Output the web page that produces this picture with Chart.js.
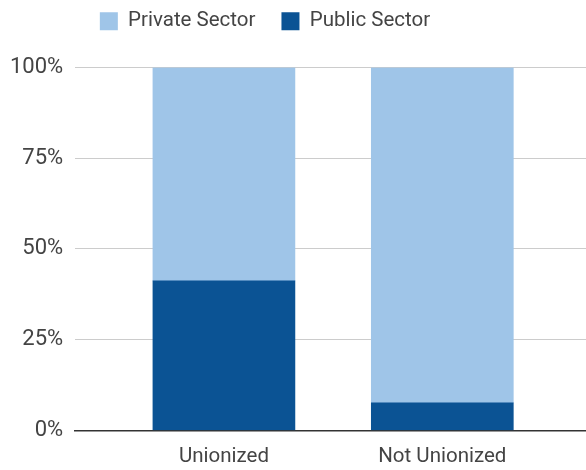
<!DOCTYPE html>
<html>
<head>
<meta charset="utf-8">
<script src="https://cdn.jsdelivr.net/npm/chart.js@4"></script>
<style>
html,body{margin:0;padding:0;background:#fff;}
#wrap{width:586px;height:470px;}
</style>
</head>
<body>
<div id="wrap"><canvas id="c" width="586" height="470"></canvas></div>
<script>
const categories = ['Unionized', 'Not Unionized'];
const publicSector = [41.2, 7.6];
const privateSector = [58.8, 92.4];
const yTicks = [0, 25, 50, 75, 100];

const toPoints = arr => arr.map((v, i) => ({x: i, y: v}));

Chart.defaults.font.family = 'Roboto';
Chart.defaults.color = '#444';

const legendShift = {
  id: 'legendShift',
  afterLayout(chart) {
    const lg = chart.legend;
    if (!lg) return;
    lg.left -= 27; lg.right -= 27;
    lg.top -= 26; lg.bottom -= 26;
  }
};

new Chart(document.getElementById('c'), {
  type: 'bar',
  data: {
    datasets: [
      {label: 'Public Sector', data: toPoints(publicSector), backgroundColor: '#0b5394', barThickness: 142, grouped: false},
      {label: 'Private Sector', data: toPoints(privateSector), backgroundColor: '#9fc5e8', barThickness: 142, grouped: false}
    ]
  },
  plugins: [legendShift],
  options: {
    responsive: false,
    animation: false,
    layout: {padding: {left: -2, right: 0, top: 11, bottom: -13}},
    plugins: {
      legend: {
        reverse: true,
        labels: {boxWidth: 18, boxHeight: 18, padding: 26, font: {size: 20.5}, color: '#444'}
      },
      tooltip: {enabled: false}
    },
    scales: {
      x: {
        type: 'linear',
        offset: false,
        min: -0.681,
        max: 1.658,
        afterBuildTicks: s => { s.ticks = categories.map((c, i) => ({value: i})); },
        ticks: {callback: v => categories[v], font: {size: 20.5}, color: '#444', padding: 14, maxRotation: 0, autoSkip: false},
        grid: {display: false, drawTicks: false},
        border: {display: true, color: '#333', width: 1.5}
      },
      y: {
        stacked: true,
        min: 0,
        max: 100,
        afterBuildTicks: s => { s.ticks = yTicks.map(v => ({value: v})); },
        ticks: {callback: v => v + '%', font: {size: 22}, color: '#444', padding: 12},
        grid: {color: '#ccc', drawTicks: false},
        border: {display: false}
      }
    }
  }
});
</script>
</body>
</html>
